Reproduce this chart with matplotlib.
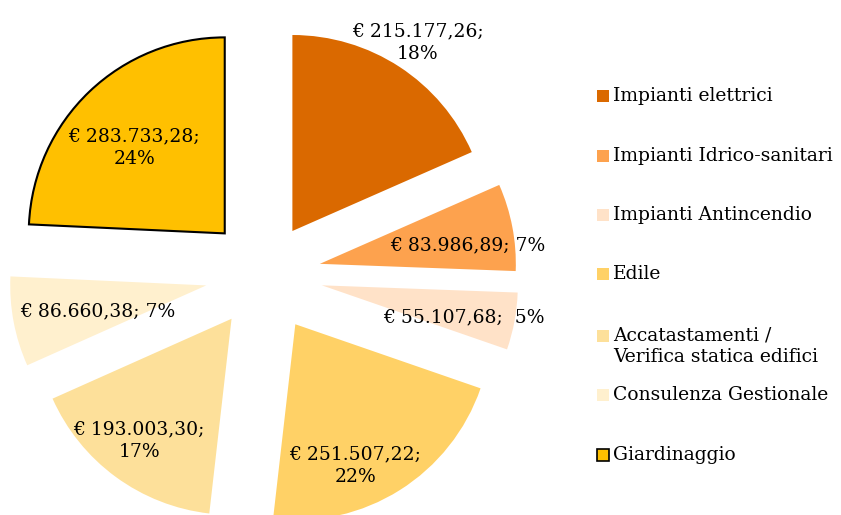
import matplotlib.pyplot as plt
import numpy as np

# Data
categories = ["Impianti elettrici", "Impianti Idrico-sanitari", "Impianti Antincendio",
              "Edile", "Accatastamenti /\nVerifica statica edifici",
              "Consulenza Gestionale", "Giardinaggio"]
values = [215177.26, 83986.89, 55107.68, 251507.22, 193003.30, 86660.38, 283733.28]
colors = ["#DA6900", "#FDA24E", "#FFE2C8", "#FFD166", "#FDE09A", "#FFF0CE", "#FFC000"]
# separator between amount and percent in each data label
label_sep = ["\n", " ", "  ", "\n", "\n", " ", "\n"]

# how far each slice is pulled out (fraction of radius)
explode = [0.265, 0.29, 0.30, 0.30, 0.28, 0.30, 0.29]

# layout of the data labels (distance from pie centre, angle nudge in degrees)
label_dist = [1.42, 1.05, 1.04, 1.08, 1.06, 0.87, 0.925]
label_nudge = [-0.4, -2.8, -1.4, -6.7, -0.7, 1.7, 2.1]

# legend rows, pixels from top of the figure
legend_rows = [96, 156, 215, 274, 336, 395, 455]

W, H = 841, 515
px = 196.0            # pixels per pie radius
cx, cy = 264, 274.5   # pie centre, pixels from top-left

plt.rcParams['font.family'] = ['DejaVu Serif']


def euro(v):
    s = f"{v:,.2f}"
    s = s.replace(",", "X").replace(".", ",").replace("X", ".")
    return "€ " + s


fig = plt.figure(figsize=(W / 100, H / 100), dpi=100)
ax = fig.add_axes([0, 0, 1, 1])

wedges, _ = ax.pie(values, explode=explode, colors=colors,
                   startangle=90, counterclock=False, radius=1)
wedges[-1].set_edgecolor("black")
wedges[-1].set_linewidth(1.5)

total = sum(values)
for i, w in enumerate(wedges):
    mid = np.deg2rad((w.theta1 + w.theta2) / 2 + label_nudge[i])
    pct = round(values[i] / total * 100)
    txt = euro(values[i]) + ";" + label_sep[i] + f"{pct}%"
    ax.text(label_dist[i] * np.cos(mid), label_dist[i] * np.sin(mid), txt,
            ha="center", va="center", fontsize=13.5, linespacing=1.32,
            color="black")

ax.set_xlim(-cx / px, (W - cx) / px)
ax.set_ylim(-(H - cy) / px, cy / px)
ax.set_aspect("auto")
ax.axis("off")

# legend drawn by hand so the marker sits on the first text line
for i, name in enumerate(categories):
    yc = 1 - legend_rows[i] / H
    edge = "black" if i == len(categories) - 1 else colors[i]
    fig.patches.append(plt.Rectangle((597 / W, yc - 6 / H), 12 / W, 12 / H,
                                     transform=fig.transFigure,
                                     facecolor=colors[i], edgecolor=edge,
                                     linewidth=1.2 if edge == "black" else 0))
    fig.text(613 / W, yc + 9 / H, name, ha="left", va="top",
             fontsize=13.5, linespacing=1.22)

fig.savefig("out.png", dpi=100)
